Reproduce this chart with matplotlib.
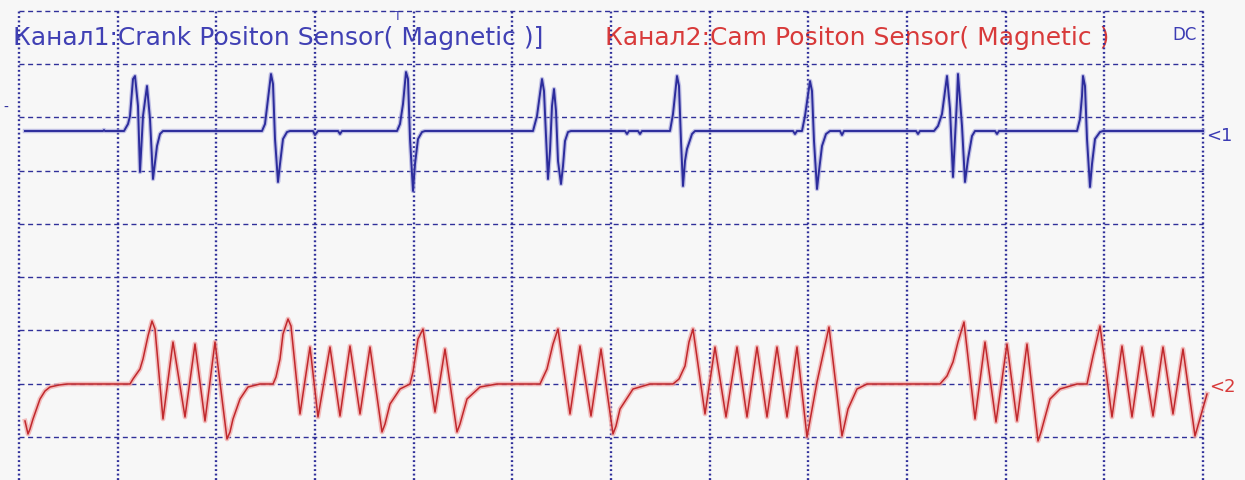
import matplotlib
matplotlib.use("Agg")
import matplotlib.pyplot as plt

# ---- data (time in samples, level in counts relative to channel zero)
ch1_t = [6, 84, 85, 86,
         105, 109, 111, 114, 116, 119, 121, 124, 128, 131, 134, 138, 141, 144,
         243, 246, 249, 252, 254, 256, 259, 261, 264, 268, 271,
         294, 296, 299, 319, 321, 323,
         378, 381, 384, 387, 389, 391, 394, 396, 399, 403, 406,
         514, 518, 520, 523, 525, 527, 529, 531, 533, 535, 537, 539, 542, 544, 546, 549, 552,
         606, 608, 610, 619, 621, 623,
         651, 654, 658, 660, 662, 664, 666, 668, 673, 676,
         774, 776, 778,
         783, 786, 791, 793, 795, 798, 800, 803, 807, 811,
         821, 823, 825,
         897, 899, 901,
         915, 919, 923, 928, 931, 934, 938, 939, 943, 946, 949, 953, 956,
         976, 978, 980,
         1058, 1061, 1063, 1064, 1066, 1068, 1071, 1073, 1076, 1081, 1084,
         1184]
ch1_v = [0, 0, 1, 0,
         0, 7, 15, 52, 55, 25, -41, 15, 45, 12, -48, -15, -3, 0,
         0, 7, 32, 57, 47, -8, -51, -33, -8, -1, 0,
         0, -4, 0, 0, -3, 0,
         0, 7, 27, 59, 52, -8, -60, -33, -8, -1, 0,
         0, 15, 30, 52, 40, -5, -48, -20, 25, 42, 20, -30, -53, -35, -10, -1, 0,
         0, -3, 0, 0, -3, 0,
         0, 17, 55, 45, -10, -55, -30, -18, -3, 0,
         0, -3, 0,
         0, 15, 50, 40, -10, -58, -40, -15, -3, 0,
         0, -4, 0,
         0, -3, 0,
         0, 5, 17, 55, 22, -46, 32, 57, 5, -51, -28, -5, 0,
         0, -3, 0,
         0, 12, 35, 55, 45, -8, -56, -33, -8, -1, 0,
         0]

ch2_t = [6, 9, 11, 14, 21, 26, 31, 40, 48, 111,
         114, 121, 124, 129, 133, 136, 144, 154, 166, 176, 186, 196, 208, 211, 214, 221, 229, 241, 254,
         257, 261, 264, 269, 272, 281, 291, 299, 311, 321, 331, 341, 351, 363, 366, 371, 381, 391,
         394, 399, 404, 416, 426, 438, 441, 448, 461, 478, 521,
         528, 534, 539, 551, 561, 572, 582, 594, 597, 601, 614, 631, 654,
         660, 666, 670, 674, 686, 696, 707, 718, 728, 738, 748, 758, 768, 778, 788,
         798, 810, 823, 829, 838, 848, 921,
         928, 934, 939, 945, 956, 966, 977, 988, 998, 1008, 1019, 1022, 1031, 1041, 1058, 1068,
         1074, 1078, 1081, 1093, 1103, 1113, 1123, 1134, 1144, 1154, 1164, 1176, 1188]
ch2_v = [-37, -50, -45, -35, -15, -7, -3, -1, 0, 0,
         5, 15, 25, 48, 63, 55, -35, 42, -33, 40, -37, 42, -55, -48, -35, -15, -3, 0, 0,
         7, 25, 50, 65, 58, -30, 37, -33, 37, -32, 38, -30, 37, -48, -40, -20, -5, 0,
         12, 45, 55, -28, 35, -48, -40, -15, -3, 0, 0,
         15, 40, 55, -30, 38, -32, 35, -50, -42, -25, -5, 0, 0,
         5, 18, 42, 55, -30, 37, -33, 37, -33, 37, -33, 37, -33, 37, -53,
         2, 57, -52, -25, -5, 0, 0,
         8, 22, 42, 62, -35, 42, -38, 40, -37, 40, -57, -48, -15, -5, 0, 0,
         28, 45, 58, -33, 38, -33, 37, -32, 37, -30, 35, -52, -10]

ch1_label = "Канал1:Crank Positon Sensor( Magnetic )]"
ch2_label = "Канал2:Cam Positon Sensor( Magnetic )"
coupling_label = "DC"
trigger_label = "T"
ch1_marker = "<1"
ch2_marker = "<2"

# ---- layout / styles
ch1_zero = 306
ch2_zero = 53
n_xdiv, n_ydiv = 12, 8
div_x = 1184 / n_xdiv
div_y = 426.4 / n_ydiv
bg = "#f7f7f7"
grid_col = "#30309a"
blue = "#2c2c9c"
red = "#c0282c"

fig = plt.figure(figsize=(12.45, 4.81), dpi=100, facecolor=bg)
ax = fig.add_axes([0, 0, 1, 1])
ax.set_facecolor(bg)
ax.set_xlim(-19, 1226)
ax.set_ylim(-43, 438)
ax.axis("off")

# grid
y_top = n_ydiv * div_y
for k in range(n_xdiv + 1):
    ax.plot([k * div_x, k * div_x], [-43, y_top], color=grid_col, lw=1.7,
            linestyle=(0, (0.8, 1.1)), zorder=2, solid_capstyle="butt")
for k in range(n_ydiv + 1):
    ax.plot([0, n_xdiv * div_x], [k * div_y, k * div_y], color=grid_col, lw=1.0,
            linestyle=(0, (3.6, 2.6)), zorder=2)

# traces
y1 = [v + ch1_zero for v in ch1_v]
y2 = [v + ch2_zero for v in ch2_v]
ax.plot(ch1_t, y1, color="#9a9ad8", lw=3.2, alpha=0.6, zorder=3, solid_joinstyle="round")
ax.plot(ch1_t, y1, color=blue, lw=1.4, zorder=4, solid_joinstyle="round")
ax.plot(ch2_t, y2, color="#f0a4a4", lw=3.4, alpha=0.7, zorder=3, solid_joinstyle="round")
ax.plot(ch2_t, y2, color=red, lw=1.1, zorder=4, solid_joinstyle="round")

# texts
ax.text(-6, 393, ch1_label, color="#4040b4", fontsize=18, va="baseline", ha="left", zorder=1)
ax.text(586, 393, ch2_label, color="#d83a3a", fontsize=18, va="baseline", ha="left", zorder=1)
ax.text(379, 427.5, trigger_label, color="#4040b4", fontsize=9, va="top", ha="center", zorder=1)
ax.text(1153, 398, coupling_label, color="#3c3cb4", fontsize=12, va="baseline", ha="left", zorder=1)
ax.text(1187, ch1_zero - 4, ch1_marker, color="#3c3cb4", fontsize=13, va="center", ha="left")
ax.text(1190, ch2_zero - 2, ch2_marker, color="#d83a3a", fontsize=13, va="center", ha="left")
ax.text(-16, 330, "-", color="#2c2c9c", fontsize=10, va="center", ha="left")

fig.savefig("out.png", dpi=100, facecolor=bg)
